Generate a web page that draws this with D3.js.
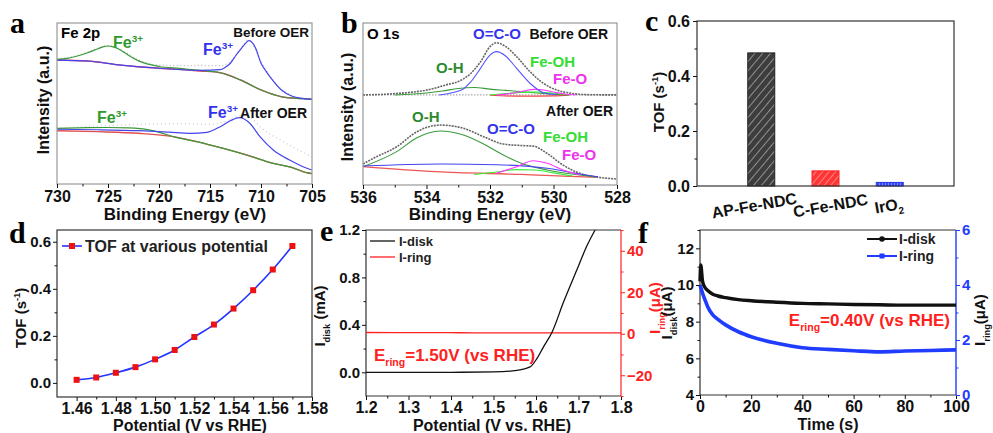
<!DOCTYPE html>
<html>
<head>
<meta charset="utf-8">
<style>
  body { margin: 0; background: #fff; }
  text { font-family: "Liberation Sans", Arial, sans-serif; font-weight: bold; }
  .plabel { font-family: "Liberation Serif", "Times New Roman", serif; font-size: 30px; }
</style>
</head>
<body>
<svg id="chart" width="993" height="433"></svg>
<script src="https://d3js.org/d3.v7.min.js"></script>
<script>
// ---------- panel a : Fe 2p (binding energy eV, intensity a.u.) ----------
const aTopBaseE  = [730,727,724,722,720,718,716,714,712,710,708,706,705];
const aTopBase   = [77,76.4,74,72.8,71.9,71.2,70.2,69.1,64.6,58.4,54.2,53,52.6];
const aTopGreenE = [730,729,728,727,726,725.5,725,724.5,724,723,722,720,718,716,714,712,710,708,706,705];
const aTopGreen  = [77.4,78,79.5,81.5,84,85.2,85.7,85.2,84,80,76.5,73,71.8,70.6,69.1,64.6,58.4,54.2,53,52.6];
const aTopBlueE  = [730,727,724,720,716,714,713.5,713,712.5,712,711.5,711.2,711,710.5,710,709.5,709,708,707,706,705];
const aTopBlue   = [77,76.4,74,71.9,70.6,71,72.5,75,79.5,83.6,87.5,89,88.6,84,75,70,65.6,58.4,54.7,53.2,52.6];
const aTopRawE   = [730,728,726,725,724,722,720,718,716,714,713,712,711.2,710,709,708,707,706,705];
const aTopRaw    = [77.6,79.8,84.3,86,84.2,77,73.8,73.5,73.6,73.5,76,84,89.3,76,66,58.8,55,53.4,52.8];
const aBotBaseE  = [730,726,722,718.6,716.3,713.7,711.4,708.8,707,705.5,705];
const aBotBase   = [33.1,32.5,31.5,29.4,26.3,22.1,18,12.8,10.3,7,6.5];
const aBotGreenE = [730,727,725,723,721,719,718.6,716.3,713.7,711.4,708.8,707,705.5,705];
const aBotGreen  = [34.6,35,35.1,34.8,33.6,30.2,29.4,26.3,22.1,18,12.8,10.3,7,6.5];
const aBotBlueE  = [730,726,722,719,717,715.3,714,713,712.1,711.1,710.1,708.8,707.2,705.5,705];
const aBotBlue   = [34,33.7,33.1,32.2,31.5,32.1,35.6,39.3,41.2,37.7,29.4,21.1,14.9,9.8,8.7];
const aBotRawE   = [730,726,722,718,715,713,712,711,710,708,706,705];
const aBotRaw    = [34.5,36,37,37.5,37,40,42.5,41,35,27,20,17];
const aTicks = [730,725,720,715,710,705];

// ---------- panel b : O 1s ----------
const bTopRawE   = [536,535,533.9,533.4,532.9,532.6,532.3,532,531.8,531.5,531.16,530.74,530.32,529.9,529.5,529,528];
const bTopRaw    = [55.6,56.4,59,61.7,64.8,69,76,85.4,87.8,85.4,79.2,70,62.8,58.6,56.8,55.8,55.6];
const bTopBlueE  = [533.6,532.9,532.6,532.3,532,531.8,531.5,531.16,530.74,530.32,529.9];
const bTopBlue   = [55.6,58.6,63.8,72,80.2,82.3,79.5,72,62.8,57,55.8];
const bTopOHE    = [535,534,533.5,533,532.5,532,531.5,531,530.5,530,529.5];
const bTopOH     = [55.6,56.8,58,59.6,60.2,59.2,58.4,57.6,56.8,56,55.6];
const bTopFeOHE  = [532,531.5,531,530.5,530,529.5];
const bTopFeOH   = [55.6,56.4,57.2,57.4,56.6,55.6];
const bTopFeOE   = [531.8,531.3,530.9,530.6,530.3,530,529.6,529.3];
const bTopFeO    = [55.6,56.6,58.2,59,58.6,57.4,56,55.6];
const bTopRedE   = [532,531,530,529.5];
const bTopRed    = [55.4,54.8,55,55.5];
const bBotRawE   = [536,535.67,534.94,534.3,533.57,532.84,532.2,531.58,530.95,530.64,530.2,529.7,529.17,528.6,528];
const bBotRaw    = [13,16.5,23.6,32.9,37,35,29.8,25.3,24.3,24,19.5,12.3,7.2,4.8,3.7];
const bBotOHE    = [536,534.94,534.3,533.57,532.84,532.2,531.58,530.95,530.2,529.17,528.6];
const bBotOH     = [11.3,20.6,29.2,33.3,30.9,25.3,18.5,13,9.3,6.2,5];
const bBotBlueE  = [536,533.57,531.8,530.2,529.17,528.6];
const bBotBlue   = [11.7,13,12.5,10.3,6.8,5];
const bBotFeOE   = [531.8,531.16,530.64,530.2,529.7,529.17];
const bBotFeO    = [7.2,11.3,15,13.4,9.3,6.2];
const bBotFeOHE  = [532.5,531.8,531.2,530.6,530,529.4];
const bBotFeOH   = [6.5,8,9.5,9.3,7.5,5.5];
const bBotBaseE  = [536,533.7,531,529,528.6];
const bBotBase   = [11.3,8.2,6.5,5,4.9];
const bTicks = [536,534,532,530,528];

// ---------- panel c : TOF bars ----------
const cCats = ["AP-Fe-NDC", "C-Fe-NDC", "IrO2"];
const cTOF  = [0.484, 0.055, 0.013];
const cTicks = [0.0, 0.2, 0.4, 0.6];

// ---------- panel d : TOF vs potential ----------
const dPot = [1.46,1.47,1.48,1.49,1.50,1.51,1.52,1.53,1.54,1.55,1.56,1.57];
const dTOF = [0.013,0.023,0.043,0.067,0.10,0.14,0.195,0.248,0.316,0.394,0.482,0.582];
const dXTicks = [1.46,1.48,1.50,1.52,1.54,1.56,1.58];
const dYTicks = [0.0,0.2,0.4,0.6];

// ---------- panel e : RRDE disk / ring ----------
const ePotDisk = [1.2,1.3,1.4,1.5,1.555,1.586,1.602,1.617,1.638,1.665,1.696,1.719,1.739];
const eDisk    = [0,0,0,0.003,0.016,0.045,0.115,0.21,0.34,0.594,0.862,1.06,1.2];
const ePotRing = [1.2,1.3,1.4,1.5,1.6,1.7,1.8];
const eRing    = [0.6,0.5,0.5,0.4,0.4,0.4,0.4];
const eXTicks = [1.2,1.3,1.4,1.5,1.6,1.7,1.8];
const eYTicks = [0.0,0.4,0.8,1.2];
const eRTicks = [-20,0,20,40];

// ---------- panel f : current vs time ----------
const fTimeDisk = [0,0.3,1,2,3,5,7,10,15,20,30,40,50,60,70,80,90,100];
const fDisk     = [10.2,11.1,10.2,9.85,9.7,9.5,9.4,9.31,9.2,9.14,9.06,9.0,8.97,8.94,8.92,8.9,8.9,8.9];
const fTimeRing = [0,0.5,1,2,3,5,7,10,15,20,30,40,50,60,70,80,90,100];
const fRing     = [4.0,3.85,3.7,3.45,3.21,2.91,2.75,2.55,2.3,2.12,1.88,1.72,1.66,1.61,1.57,1.6,1.62,1.64];
const fXTicks = [0,20,40,60,80,100];
const fYTicks = [4,6,8,10,12];
const fRTicks = [0,2,4,6];

const svg = d3.select("#chart");
const defs = svg.append("defs");

function rich(g, x, y, parts, size, color, anchor, rot) {
  const t = g.append("text").attr("x", x).attr("y", y)
    .attr("font-size", size).attr("fill", color || "#000")
    .attr("text-anchor", anchor || "start");
  if (rot) t.attr("transform", `rotate(${rot},${x},${y})`);
  let shift = 0;
  parts.forEach(p => {
    const s = typeof p === "string" ? p : p[0];
    const k = typeof p === "string" ? "n" : p[1];
    const want = k === "sub" ? size * 0.3 : k === "sup" ? -size * 0.4 : 0;
    const ts = t.append("tspan").text(s).attr("dy", want - shift);
    if (k !== "n") ts.attr("font-size", size * 0.62);
    shift = want;
  });
  return t;
}

function line(g, xs, ys, sx, sy, color, w, dash) {
  const pts = xs.map((v, i) => [sx(v), sy(ys[i])]);
  const p = g.append("path").datum(pts)
    .attr("d", d3.line().curve(d3.curveMonotoneX))
    .attr("fill", "none").attr("stroke", color).attr("stroke-width", w || 1);
  if (dash) p.attr("stroke-dasharray", dash);
  return p;
}

function frame(g, sx, sy, color) {
  const [x0, x1] = sx.range(), [y1, y0] = sy.range();
  g.append("rect").attr("x", x0).attr("y", y0).attr("width", x1 - x0).attr("height", y1 - y0)
    .attr("fill", "none").attr("stroke", color || "#222").attr("stroke-width", 1.2);
}

function axis(g, gen, pos, ticks, fmt, size, color, minor, pad) {
  const a = g.append("g").attr("transform", pos)
    .call(gen.tickValues(ticks).tickSize(4).tickSizeOuter(0).tickPadding(pad || 2).tickFormat(fmt));
  a.attr("font-size", size);
  a.select(".domain").remove();
  a.selectAll("line").attr("stroke", color || "#222");
  a.selectAll("text").attr("fill", color || "#111");
  if (minor) {
    const m = g.append("g").attr("transform", pos)
      .call(gen.tickValues(minor).tickSize(2.5).tickFormat(""));
    m.select(".domain").remove();
    m.selectAll("line").attr("stroke", color || "#222");
  }
  return a;
}

// ================= panel a =================
{
  const g = svg.append("g");
  const x = d3.scaleLinear().domain([730, 705]).range([57, 312]);
  const y = d3.scaleLinear().domain([0, 100]).range([184, 23]);
  line(g, aTopRawE, aTopRaw, x, y, "#bbb", 1.3, "1,2.5");
  line(g, aBotRawE, aBotRaw, x, y, "#ccc", 1.3, "1,3");
  line(g, aTopBaseE, aTopBase, x, y, "#e0406a", 1.4);
  line(g, aTopGreenE, aTopGreen, x, y, "#3a9a3a", 1.2);
  line(g, aTopBlueE, aTopBlue, x, y, "#4444ee", 1.2);
  line(g, aBotBaseE, aBotBase, x, y, "#e05050", 1.4);
  line(g, aBotGreenE, aBotGreen, x, y, "#3a9a3a", 1.2);
  line(g, aBotBlueE, aBotBlue, x, y, "#4444ee", 1.2);
  frame(g, x, y, "#999");
  axis(g, d3.axisBottom(x), "translate(0,184)", aTicks, d3.format("d"), 16, "#111",
       [727.5, 722.5, 717.5, 712.5, 707.5], 3);
  rich(g, 61, 38, ["Fe 2p"], 15);
  rich(g, 309, 37, ["Before OER"], 13.5, "#111", "end");
  rich(g, 113, 48, ["Fe", ["3+", "sup"]], 16, "#2e9a2e");
  rich(g, 203, 55, ["Fe", ["3+", "sup"]], 16, "#3333ee");
  rich(g, 97, 123, ["Fe", ["3+", "sup"]], 16, "#2e9a2e");
  rich(g, 208, 118, ["Fe", ["3+", "sup"]], 16, "#3333ee");
  rich(g, 307, 118, ["After OER"], 14, "#111", "end");
  rich(g, 185, 220, ["Binding Energy (eV)"], 17, "#111", "middle");
  rich(g, 49, 100, ["Intensity (a.u.)"], 16, "#111", "middle", -90);
  g.append("text").attr("class", "plabel").attr("x", 10).attr("y", 33).text("a");
}

// ================= panel b =================
{
  const g = svg.append("g");
  const x = d3.scaleLinear().domain([536, 528]).range([363, 617]);
  const y = d3.scaleLinear().domain([0, 100]).range([185, 23]);
  line(g, [536, 528], [55.6, 55.6], x, y, "#aaa", 1.2, "1.5,1.5");
  line(g, bTopRawE, bTopRaw, x, y, "#666", 1.6, "2,1");
  line(g, bTopRedE, bTopRed, x, y, "#ee4444", 1.2);
  line(g, bTopOHE, bTopOH, x, y, "#3a9a3a", 1.1);
  line(g, bTopFeOHE, bTopFeOH, x, y, "#33ee33", 1.1);
  line(g, bTopFeOE, bTopFeO, x, y, "#ff33ff", 1.1);
  line(g, bTopBlueE, bTopBlue, x, y, "#5555ff", 1.1);
  line(g, bBotBaseE, bBotBase, x, y, "#ee5555", 1.3);
  line(g, bBotRawE, bBotRaw, x, y, "#666", 1.6, "2,1");
  line(g, bBotOHE, bBotOH, x, y, "#3a9a3a", 1.1);
  line(g, bBotBlueE, bBotBlue, x, y, "#4444ee", 1.1);
  line(g, bBotFeOHE, bBotFeOH, x, y, "#33ee33", 1.1);
  line(g, bBotFeOE, bBotFeO, x, y, "#ff33ff", 1.1);
  frame(g, x, y, "#999");
  axis(g, d3.axisBottom(x), "translate(0,185)", bTicks, d3.format("d"), 16, "#111",
       [535, 533, 531, 529], 3);
  rich(g, 367, 39, ["O 1s"], 15);
  rich(g, 473, 39, ["O=C-O"], 15, "#3333ee");
  rich(g, 608, 39, ["Before OER"], 14, "#111", "end");
  rich(g, 436, 73, ["O-H"], 15, "#2e8a2e");
  rich(g, 530, 67, ["Fe-OH"], 15, "#33dd33");
  rich(g, 553, 84, ["Fe-O"], 15, "#ee33ee");
  rich(g, 613, 116, ["After OER"], 14, "#111", "end");
  rich(g, 412, 122, ["O-H"], 15, "#2e8a2e");
  rich(g, 487, 134, ["O=C-O"], 15, "#3333ee");
  rich(g, 543, 142, ["Fe-OH"], 15, "#33dd33");
  rich(g, 562, 160, ["Fe-O"], 15, "#ee33ee");
  rich(g, 490, 220, ["Binding Energy (eV)"], 17, "#111", "middle");
  rich(g, 353, 107, ["Intensity (a.u.)"], 16, "#111", "middle", -90);
  g.append("text").attr("class", "plabel").attr("x", 341).attr("y", 33).text("b");
}

// ================= panel c =================
{
  const g = svg.append("g");
  const x = d3.scalePoint().domain(cCats).range([697, 954]).padding(1);
  const y = d3.scaleLinear().domain([0, 0.6]).range([186, 21]);

  function hatch(id, bg, fg, w, rot, sw) {
    const p = defs.append("pattern").attr("id", id).attr("patternUnits", "userSpaceOnUse")
      .attr("width", w).attr("height", w).attr("patternTransform", `rotate(${rot})`);
    p.append("rect").attr("width", w).attr("height", w).attr("fill", bg);
    p.append("line").attr("x1", 0).attr("y1", 0).attr("x2", 0).attr("y2", w)
      .attr("stroke", fg).attr("stroke-width", sw);
  }
  hatch("hAP", "#3d3d3d", "#d8d8d8", 6, 40, 1.1);
  hatch("hC", "#ff3535", "#ffc4c4", 5, 40, 1.1);
  hatch("hIr", "#3344ff", "#ccd4ff", 3, 0, 1);
  const fills = ["url(#hAP)", "url(#hC)", "url(#hIr)"];
  const strokes = ["#222", "#ff2020", "#2233ee"];
  const bw = 27;
  g.selectAll("rect.bar").data(cCats).join("rect").attr("class", "bar")
    .attr("x", d => x(d) - bw / 2).attr("width", bw)
    .attr("y", (d, i) => y(cTOF[i])).attr("height", (d, i) => y(0) - y(cTOF[i]))
    .attr("fill", (d, i) => fills[i]).attr("stroke", (d, i) => strokes[i]).attr("stroke-width", 1);
  frame(g, x, y, "#333");
  axis(g, d3.axisLeft(y), "translate(697,0)", cTicks, d3.format(".1f"), 16, "#111", [0.1, 0.3, 0.5], 3);
  const labDx = [-6, 6, 0];
  cCats.forEach((c, i) => {
    const parts = c === "IrO2" ? ["IrO", ["2", "sub"]] : [c];
    rich(g, x(c) + labDx[i], 211, parts, 16, "#111", "middle", -10);
  });
  rich(g, 664, 102, ["TOF (s", ["-1", "sup"], ")"], 15, "#111", "middle", -90);
  g.append("text").attr("class", "plabel").attr("x", 645).attr("y", 31).text("c");
}

// ================= panel d =================
{
  const g = svg.append("g");
  const x = d3.scaleLinear().domain([1.45, 1.58]).range([57, 312]);
  const y = d3.scaleLinear().domain([-0.06, 0.65]).range([397, 230]);
  frame(g, x, y, "#333");
  line(g, dPot, dTOF, x, y, "#2233ff", 1.6);
  g.selectAll("rect.pt").data(dPot).join("rect").attr("class", "pt")
    .attr("x", d => x(d) - 3).attr("y", (d, i) => y(dTOF[i]) - 3)
    .attr("width", 6).attr("height", 6).attr("fill", "#ee1111");
  axis(g, d3.axisBottom(x), "translate(0,397)", dXTicks, d3.format(".2f"), 16, "#111",
       [1.47, 1.49, 1.51, 1.53, 1.55, 1.57], 2);
  axis(g, d3.axisLeft(y), "translate(57,0)", dYTicks, d3.format(".1f"), 15, "#111", [0.1, 0.3, 0.5], 2);
  g.append("line").attr("x1", 62).attr("x2", 82).attr("y1", 246).attr("y2", 246)
    .attr("stroke", "#2233ff").attr("stroke-width", 1.6);
  g.append("rect").attr("x", 69).attr("y", 243).attr("width", 6).attr("height", 6).attr("fill", "#ee1111");
  rich(g, 85, 252, ["TOF at various potential"], 16, "#222");
  rich(g, 190, 431, ["Potential (V vs RHE)"], 16, "#111", "middle");
  rich(g, 26, 318, ["TOF (s", ["-1", "sup"], ")"], 15, "#111", "middle", -90);
  g.append("text").attr("class", "plabel").attr("x", 9).attr("y", 243).text("d");
}

// ================= panel e =================
{
  const g = svg.append("g");
  const x = d3.scaleLinear().domain([1.2, 1.8]).range([366, 621]);
  const y = d3.scaleLinear().domain([-0.2, 1.2]).range([396, 230]);
  const yr = d3.scaleLinear().domain([-30, 50]).range([396, 230]);
  g.append("path").attr("d", "M621,230 H366 V396 H621").attr("fill", "none").attr("stroke", "#333").attr("stroke-width", 1.2);
  g.append("line").attr("x1", 621).attr("x2", 621).attr("y1", 230).attr("y2", 396).attr("stroke", "#ff2020").attr("stroke-width", 1.2);
  line(g, ePotRing, eRing, x, yr, "#ff2020", 1.3);
  line(g, ePotDisk, eDisk, x, y, "#111", 1.3);
  axis(g, d3.axisBottom(x), "translate(0,396)", eXTicks, d3.format(".1f"), 16, "#111",
       [1.25, 1.35, 1.45, 1.55, 1.65, 1.75], 2);
  axis(g, d3.axisLeft(y), "translate(366,0)", eYTicks, d3.format(".1f"), 15, "#111", [0.2, 0.6, 1.0], 2);
  axis(g, d3.axisRight(yr), "translate(621,0)", eRTicks, d3.format("d"), 15, "#ff2020", [-30, -10, 10, 30, 50], 2);
  g.append("line").attr("x1", 370).attr("x2", 395).attr("y1", 241).attr("y2", 241).attr("stroke", "#111").attr("stroke-width", 1.3);
  g.append("line").attr("x1", 370).attr("x2", 395).attr("y1", 257).attr("y2", 257).attr("stroke", "#ff2020").attr("stroke-width", 1.3);
  rich(g, 399, 246, ["I-disk"], 13, "#222");
  rich(g, 399, 262, ["I-ring"], 13, "#222");
  rich(g, 374, 361, ["E", ["ring", "sub"], "=1.50V (vs RHE)"], 17, "#ff2020");
  rich(g, 492, 431, ["Potential (V vs. RHE)"], 16, "#111", "middle");
  rich(g, 325, 316, ["I", ["disk", "sub"], " (mA)"], 15, "#111", "middle", -90);
  rich(g, 660, 308, ["I", ["ring", "sub"], "(μA)"], 15, "#ff2020", "middle", -90);
  g.append("text").attr("class", "plabel").attr("x", 320).attr("y", 241).text("e");
}

// ================= panel f =================
{
  const g = svg.append("g");
  const x = d3.scaleLinear().domain([0, 100]).range([700, 956]);
  const y = d3.scaleLinear().domain([4, 13]).range([395, 230]);
  const yr = d3.scaleLinear().domain([0, 6]).range([395, 230]);
  g.append("path").attr("d", "M956,230 H700 V395 H956").attr("fill", "none").attr("stroke", "#333").attr("stroke-width", 1.2);
  g.append("line").attr("x1", 956).attr("x2", 956).attr("y1", 230).attr("y2", 395).attr("stroke", "#1f3cff").attr("stroke-width", 1.4);
  line(g, fTimeRing, fRing, x, yr, "#1f3cff", 3.6);
  line(g, fTimeDisk, fDisk, x, y, "#111", 3.4);
  axis(g, d3.axisBottom(x), "translate(0,395)", fXTicks, d3.format("d"), 16, "#111", [10, 30, 50, 70, 90], 2);
  axis(g, d3.axisLeft(y), "translate(700,0)", fYTicks, d3.format("d"), 15, "#111", [5, 7, 9, 11, 13], 2);
  axis(g, d3.axisRight(yr), "translate(956,0)", fRTicks, d3.format("d"), 15, "#1f3cff", [1, 3, 5], 2);
  g.append("line").attr("x1", 867).attr("x2", 897).attr("y1", 239).attr("y2", 239).attr("stroke", "#111").attr("stroke-width", 2);
  g.append("circle").attr("cx", 882).attr("cy", 239).attr("r", 2.8).attr("fill", "#111");
  g.append("line").attr("x1", 867).attr("x2", 897).attr("y1", 256).attr("y2", 256).attr("stroke", "#1f3cff").attr("stroke-width", 2);
  g.append("rect").attr("x", 879.5).attr("y", 253.5).attr("width", 5).attr("height", 5).attr("fill", "#1f3cff");
  rich(g, 899, 244, ["I-disk"], 14, "#222");
  rich(g, 899, 261, ["I-ring"], 14, "#222");
  rich(g, 950, 326, ["E", ["ring", "sub"], "=0.40V (vs RHE)"], 17, "#ff2020", "end");
  rich(g, 828, 430, ["Time (s)"], 16, "#111", "middle");
  rich(g, 672, 313, ["I", ["disk", "sub"], "(μA)"], 15, "#111", "middle", -90);
  rich(g, 985, 320, ["I", ["ring", "sub"], "(μA)"], 15, "#111", "middle", -90);
  g.append("text").attr("class", "plabel").attr("x", 638).attr("y", 243).text("f");
}
</script>
</body>
</html>
